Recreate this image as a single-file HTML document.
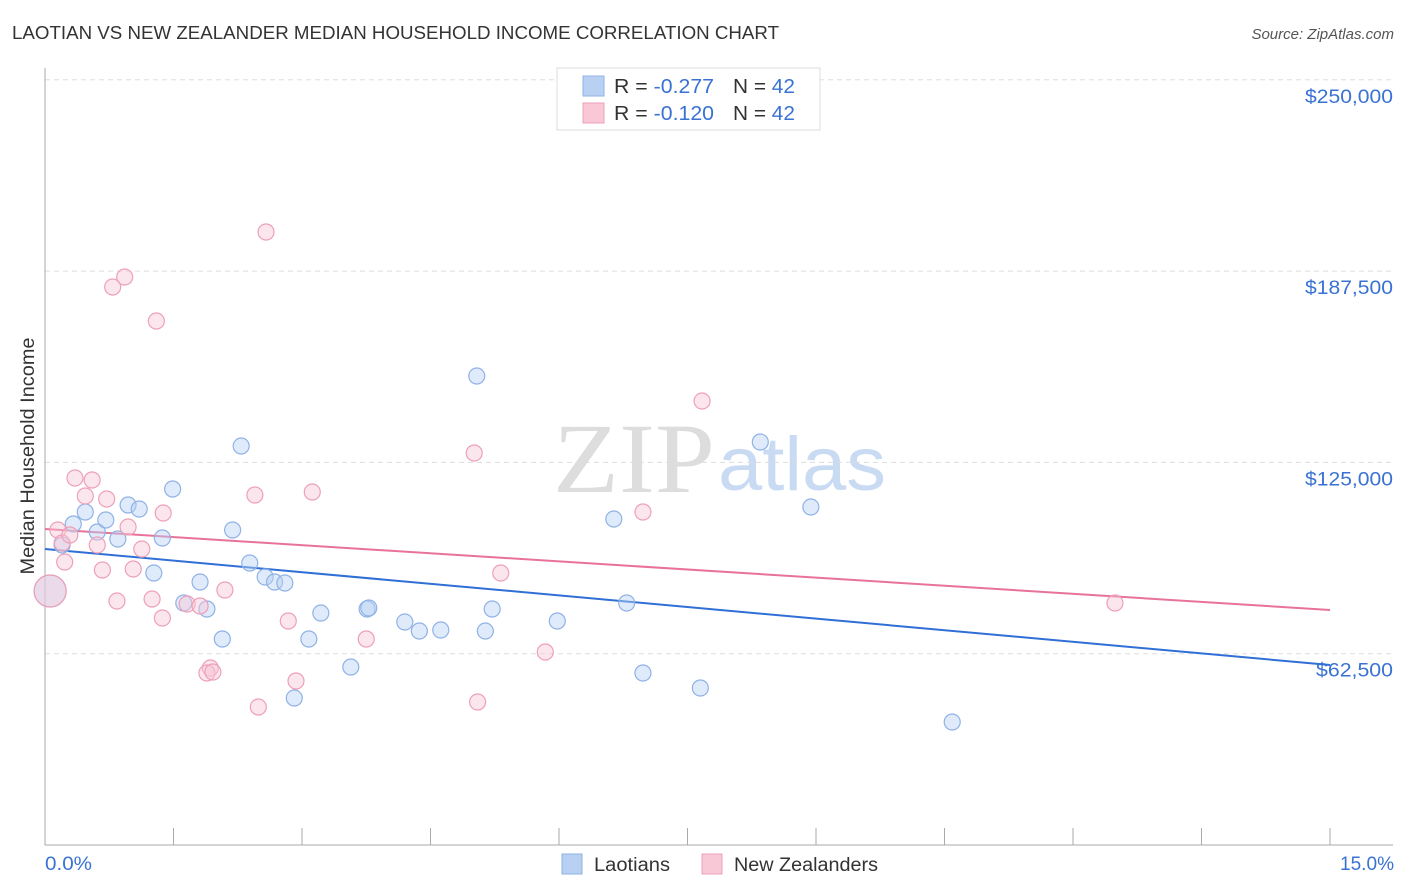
<!DOCTYPE html>
<html><head><meta charset="utf-8"><style>
body{margin:0;background:#fff;font-family:"Liberation Sans",sans-serif;}
svg{display:block}
</style></head><body>
<svg id="chart" width="1406" height="892">
<text x="12" y="39" font-size="18" fill="#333" textLength="767" lengthAdjust="spacingAndGlyphs">LAOTIAN VS NEW ZEALANDER MEDIAN HOUSEHOLD INCOME CORRELATION CHART</text>
<text x="1394" y="39" font-size="15" fill="#555" font-style="italic" text-anchor="end">Source: ZipAtlas.com</text>
<g>
<text x="553" y="492" font-size="100" font-family="Liberation Serif" fill="#ddd" textLength="162" lengthAdjust="spacingAndGlyphs">ZIP</text>
<text x="718" y="490" font-size="76" fill="#c9daf3" textLength="168" lengthAdjust="spacingAndGlyphs">atlas</text>
</g>
<g id="grid"></g>
<g id="axes"></g>
<g id="lines"></g>
<g id="points"></g>
<text x="34" y="456" font-size="19" fill="#333" text-anchor="middle" textLength="237" lengthAdjust="spacingAndGlyphs" transform="rotate(-90 34 456)">Median Household Income</text>
<text x="45" y="870" font-size="19" fill="#3a72d4" textLength="47" lengthAdjust="spacingAndGlyphs">0.0%</text>
<text x="1340" y="870" font-size="19" fill="#3a72d4" textLength="54" lengthAdjust="spacingAndGlyphs">15.0%</text>
<g>
<rect x="557" y="68" width="263" height="62" fill="#fff" stroke="#ddd"/>
<rect x="583" y="76" width="21" height="20" fill="#b8d1f3" stroke="#8fb2e6"/>
<rect x="583" y="103" width="21" height="20" fill="#f9c8d6" stroke="#eda0b8"/>
<text x="614" y="93" font-size="20" fill="#333" textLength="100" lengthAdjust="spacingAndGlyphs">R = <tspan fill="#3a72d4">-0.277</tspan></text>
<text x="733" y="93" font-size="20" fill="#333" textLength="62" lengthAdjust="spacingAndGlyphs">N = <tspan fill="#3a72d4">42</tspan></text>
<text x="614" y="120" font-size="20" fill="#333" textLength="100" lengthAdjust="spacingAndGlyphs">R = <tspan fill="#3a72d4">-0.120</tspan></text>
<text x="733" y="120" font-size="20" fill="#333" textLength="62" lengthAdjust="spacingAndGlyphs">N = <tspan fill="#3a72d4">42</tspan></text>
</g>
<g>
<rect x="562" y="854" width="20" height="20" fill="#b8d1f3" stroke="#8fb2e6"/>
<text x="594" y="871" font-size="19" fill="#333" textLength="76" lengthAdjust="spacingAndGlyphs">Laotians</text>
<rect x="702" y="854" width="20" height="20" fill="#f9c8d6" stroke="#eda0b8"/>
<text x="734" y="871" font-size="19" fill="#333" textLength="144" lengthAdjust="spacingAndGlyphs">New Zealanders</text>
</g>
</svg>
<script>
const yTicks=[62500,125000,187500,250000];
const yTickLabels=["$62,500","$125,000","$187,500","$250,000"];
const xTicks=[0,1.5,3,4.5,6,7.5,9,10.5,12,13.5,15];
const laoX=[0.06,0.20,0.33,0.47,0.61,0.71,0.85,0.97,1.10,1.27,1.37,1.49,1.62,1.81,1.89,2.07,2.19,2.29,2.39,2.57,2.68,2.80,2.91,3.08,3.22,3.57,3.76,3.78,4.20,4.37,4.62,5.04,5.14,5.22,5.98,6.64,6.79,6.98,7.65,8.35,8.94,10.59];
const laoY=[82980,98010,104870,108790,102260,106180,99970,111080,109770,88860,100300,116310,79060,85920,77100,67300,102910,130350,92130,87560,85920,85600,48020,67300,75790,58150,77100,77430,72850,69910,70240,153220,69910,77100,73180,106500,79060,56190,51290,131660,110420,40180];
const nzX=[0.06,0.15,0.20,0.23,0.29,0.35,0.47,0.55,0.61,0.67,0.72,0.79,0.84,0.93,0.97,1.03,1.13,1.25,1.30,1.37,1.38,1.66,1.81,1.93,1.89,1.96,2.10,2.45,2.49,2.58,2.84,2.93,3.12,3.75,5.01,5.05,5.32,5.84,6.98,7.67,12.49];
const nzY=[82980,102910,98660,92450,101280,119900,114020,119250,98010,89840,113040,182300,79710,185570,103890,90170,96700,80370,171190,74160,108460,78730,78080,57830,56190,56520,83310,114350,45080,200270,73180,53580,115320,67300,128070,46720,88860,63050,108790,145050,79060];
const laoTrend=[96700,58810];
const nzTrend=[103240,76780];
const NS="http://www.w3.org/2000/svg";
const X=v=>45+v/15*1285;
const Y=v=>845-v/62500*191.3;
function mk(t,a,p){const e=document.createElementNS(NS,t);for(const k in a)e.setAttribute(k,a[k]);p.appendChild(e);return e;}
const grid=document.getElementById('grid'),axes=document.getElementById('axes'),lines=document.getElementById('lines'),pts=document.getElementById('points');
yTicks.forEach((v,i)=>{
 const l=mk('line',{x1:45,x2:1393,y1:Y(v),y2:Y(v),stroke:'#ddd','stroke-dasharray':'5,4'},grid);
 
 
 const t=mk('text',{x:1393,y:Y(v)+23,'font-size':19,fill:'#3a72d4','text-anchor':'end',textLength:yTickLabels[i].length*11,lengthAdjust:'spacingAndGlyphs'},grid);
 t.textContent=yTickLabels[i];
 
 
});
const ax=mk('line',{x1:45,x2:1393,y1:845,y2:845,stroke:'#aaa'},axes);


const ay=mk('line',{x1:45,x2:45,y1:68,y2:845,stroke:'#aaa'},axes);


xTicks.forEach(v=>{
 const t=mk('line',{x1:X(v),x2:X(v),y1:828,y2:845,stroke:'#aaa'},axes);
 
 
});
function pointsFor(xs,ys,fill,stroke,name){
 xs.forEach((x,i)=>{
  const c=mk('circle',{cx:X(x),cy:Y(ys[i]),r:i===0?16:8,fill:fill,stroke:stroke,'stroke-width':1.2,'fill-opacity':0.45},pts);
  
  
 });
}
pointsFor(laoX,laoY,'#b8d1f3','#8fb2e6','laotian-point');
pointsFor(nzX,nzY,'#f9c8d6','#eda0b8','new-zealander-point');
const lb=mk('line',{x1:X(0),y1:Y(laoTrend[0]),x2:X(15),y2:Y(laoTrend[1]),stroke:'#2f6fd6','stroke-width':2},lines);


const lp=mk('line',{x1:X(0),y1:Y(nzTrend[0]),x2:X(15),y2:Y(nzTrend[1]),stroke:'#e8729a','stroke-width':2},lines);


</script>
</body></html>
